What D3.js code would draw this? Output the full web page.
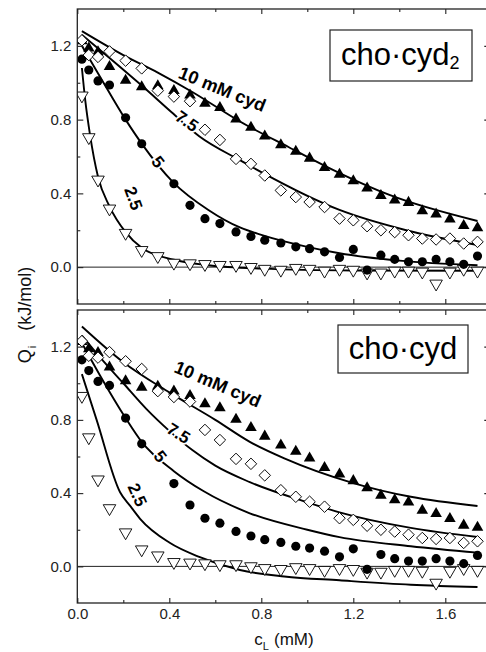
<!DOCTYPE html>
<html>
<head>
<meta charset="utf-8">
<script src="https://cdn.jsdelivr.net/npm/d3@7/dist/d3.min.js"></script>
<style>
  html, body { margin: 0; padding: 0; background: #fff; }
  svg { display: block; }
</style>
</head>
<body>
<div id="chart"></div>
<script>
/*------------------- Data -------------------*/
// ligand concentration c_L (mM), shared by every titration
const cL = [0.02, 0.05, 0.09, 0.14, 0.21, 0.28, 0.35, 0.42, 0.49, 0.555, 0.62, 0.69, 0.755, 0.815,
            0.885, 0.95, 1.01, 1.075, 1.14, 1.2, 1.26, 1.32, 1.38, 1.44, 1.50, 1.56, 1.62, 1.68, 1.74];

// Q_i (kJ/mol) for each cyd concentration
const q10 = [1.23, 1.19, 1.17, 1.09, 1.015, 0.98, 0.985, 0.96, 0.935, 0.89, 0.868, 0.805, 0.76, 0.713,
             0.665, 0.63, 0.593, 0.542, 0.506, 0.47, 0.431, 0.39, 0.366, 0.353, 0.308, 0.29, 0.263, 0.227, 0.215];
const q75 = [1.23, 1.15, 1.14, 1.17, 1.12, 1.078, 0.957, 0.925, 0.9, 0.745, 0.69, 0.587, 0.56, 0.497,
             0.416, 0.38, 0.353, 0.326, 0.263, 0.254, 0.222, 0.2, 0.19, 0.173, 0.155, 0.15, 0.155, 0.128, 0.137];
const q5 = [1.128, 1.069, 1.01, 0.988, 0.81, 0.669, null, 0.452, 0.335, 0.263, 0.236, 0.191, 0.166, 0.146,
            0.131, 0.11, 0.10, 0.083, 0.052, 0.096, -0.016, 0.065, 0.042, 0.029, 0.029, 0.042, 0.029, 0.015, 0.06];
const q25 = [0.93, 0.704, 0.474, 0.317, 0.185, 0.092, 0.059, 0.023, 0.02, 0.016, 0.011, 0.011, 0.0, -0.01,
             -0.015, -0.005, -0.01, -0.02, -0.01, -0.015, -0.03, -0.03, -0.02, -0.02, -0.025, -0.09, -0.025, -0.01, -0.02];

// fitted curves, cho·cyd2 model (top)
const fitTop10 = [[0.02, 1.28], [0.2, 1.15], [0.35, 1.055], [0.5, 0.95], [0.707, 0.79], [0.92, 0.65], [1.14, 0.51], [1.36, 0.39], [1.74, 0.25]];
const fitTop75 = [[0.02, 1.26], [0.135, 1.14], [0.28, 0.985], [0.41, 0.84], [0.53, 0.71], [0.707, 0.58], [0.8, 0.515], [1.14, 0.31], [1.43, 0.2], [1.74, 0.12]];
const fitTop5 = [[0.02, 1.2], [0.1, 1.03], [0.21, 0.8], [0.28, 0.67], [0.417, 0.46], [0.57, 0.31], [0.707, 0.215], [0.8, 0.175], [1.0, 0.11], [1.14, 0.075], [1.4, 0.035], [1.74, 0.01]];
const fitTop25 = [[0.02, 1.08], [0.035, 0.9], [0.055, 0.72], [0.09, 0.49], [0.14, 0.33], [0.21, 0.19], [0.28, 0.105], [0.42, 0.04], [0.57, 0.01], [0.8, -0.008], [1.2, -0.018], [1.74, -0.02]];

// fitted curves, cho·cyd model (bottom)
const fitBot10 = [[0.02, 1.31], [0.2, 1.115], [0.4, 0.95], [0.6, 0.8], [0.75, 0.68], [0.9, 0.59], [1.2, 0.455], [1.45, 0.38], [1.74, 0.33]];
const fitBot75 = [[0.02, 1.26], [0.1, 1.14], [0.2, 1.0], [0.3, 0.86], [0.4, 0.74], [0.5, 0.635], [0.6, 0.55], [0.75, 0.46], [1.0, 0.35], [1.14, 0.295], [1.45, 0.21], [1.74, 0.16]];
const fitBot5 = [[0.02, 1.22], [0.1, 1.04], [0.21, 0.81], [0.28, 0.68], [0.42, 0.52], [0.55, 0.41], [0.75, 0.29], [1.0, 0.2], [1.14, 0.16], [1.45, 0.11], [1.74, 0.075]];
const fitBot25 = [[0.02, 1.05], [0.084, 0.8], [0.186, 0.405], [0.23, 0.33], [0.273, 0.26], [0.4, 0.13], [0.533, 0.05], [0.707, -0.02], [0.9, -0.055], [1.14, -0.076], [1.45, -0.1], [1.74, -0.113]];

// curve labels: text, c, Q, angle, font size
const labelsTop = [["10 mM cyd", 0.63, 0.965, 22, 18], ["7.5", 0.476, 0.79, 35, 17], ["5", 0.35, 0.57, 52, 17], ["2.5", 0.243, 0.373, 70, 17]];
const labelsBot = [["10 mM cyd", 0.61, 0.995, 23, 18], ["7.5", 0.44, 0.725, 32, 17], ["5", 0.36, 0.6, 52, 17], ["2.5", 0.26, 0.39, 66, 17]];

const xTicksMajor = [0, 0.4, 0.8, 1.2, 1.6];
const xTicksMinor = [0.2, 0.6, 1.0, 1.4];
const yTicksMajor = [0, 0.4, 0.8, 1.2];
const yTicksMinor = [0.2, 0.6, 1.0];

/*------------------- Setup -------------------*/
const width = 486, height = 652;
const font = "Arial, 'Liberation Sans', sans-serif";

const svg = d3.select("#chart").append("svg")
    .attr("width", width)
    .attr("height", height);

const x = d3.scaleLinear().domain([0, 1.8]).range([77.3, 491.3]);

const panels = [
    { top: 9, bottom: 304, fits: [fitTop10, fitTop75, fitTop5, fitTop25], labels: labelsTop,
      box: [330, 30, 142, 51], name: "cho·cyd", sub: "2", xLabels: false },
    { top: 310, bottom: 603, fits: [fitBot10, fitBot75, fitBot5, fitBot25], labels: labelsBot,
      box: [338, 325, 130, 48], name: "cho·cyd", sub: null, xLabels: true }
];

const series = [
    { q: q25, shape: "down" },
    { q: q5, shape: "circle" },
    { q: q10, shape: "up" },
    { q: q75, shape: "diamond" }
];

const symUp = d3.symbol(d3.symbolTriangle, 58)();
const symDown = d3.symbol(d3.symbolTriangle, 68)();
const symCircle = d3.symbol(d3.symbolCircle, 66)();
const symSquare = d3.symbol(d3.symbolSquare, 66)();

panels.forEach((p, i) => {
    const y = d3.scaleLinear().domain([-0.2, 1.4]).range([p.bottom, p.top]);
    const g = svg.append("g");

    const clipId = "clip" + i;
    svg.append("clipPath").attr("id", clipId)
        .append("rect")
        .attr("x", x(0)).attr("y", p.top)
        .attr("width", x(1.8) - x(0)).attr("height", p.bottom - p.top);

    const plot = g.append("g").attr("clip-path", `url(#${clipId})`);

    // zero line
    plot.append("line")
        .attr("x1", x(0)).attr("x2", x(1.8))
        .attr("y1", y(0)).attr("y2", y(0))
        .attr("stroke", "#222").attr("stroke-width", 1);

    // fitted curves
    const line = d3.line()
        .x(d => x(d[0]))
        .y(d => y(d[1]))
        .curve(d3.curveMonotoneX);

    plot.selectAll("path.fit")
        .data(p.fits)
        .join("path")
        .attr("class", "fit")
        .attr("d", line)
        .attr("fill", "none")
        .attr("stroke", "#000")
        .attr("stroke-width", 1.9);

    // data points
    series.forEach(s => {
        const pts = cL.map((c, k) => [c, s.q[k]]).filter(d => d[1] !== null);
        const sel = plot.append("g").selectAll("path")
            .data(pts)
            .join("path");
        if (s.shape === "up") {
            sel.attr("d", symUp)
                .attr("transform", d => `translate(${x(d[0])},${y(d[1]) + 0.5})`)
                .attr("fill", "#000");
        } else if (s.shape === "down") {
            sel.attr("d", symDown)
                .attr("transform", d => `translate(${x(d[0])},${y(d[1])}) rotate(180)`)
                .attr("fill", "#fff").attr("stroke", "#000").attr("stroke-width", 0.9);
        } else if (s.shape === "circle") {
            sel.attr("d", symCircle)
                .attr("transform", d => `translate(${x(d[0])},${y(d[1])})`)
                .attr("fill", "#000");
        } else {
            sel.attr("d", symSquare)
                .attr("transform", d => `translate(${x(d[0])},${y(d[1])}) rotate(45)`)
                .attr("fill", "#fff").attr("stroke", "#000").attr("stroke-width", 0.9);
        }
    });

    // curve labels
    plot.selectAll("text.lbl")
        .data(p.labels)
        .join("text")
        .attr("class", "lbl")
        .attr("transform", d => `translate(${x(d[1])},${y(d[2])}) rotate(${d[3]})`)
        .attr("text-anchor", "middle")
        .attr("dominant-baseline", "central")
        .attr("font-family", font)
        .attr("font-weight", "bold")
        .attr("font-size", d => d[4])
        .attr("fill", "#000")
        .attr("stroke", "#fff")
        .attr("stroke-width", 3.5)
        .attr("paint-order", "stroke")
        .text(d => d[0]);

    // axes (ticks point inward)
    const axes = [
        [d3.axisLeft(y).tickValues(yTicksMajor).tickSize(-6).tickPadding(6).tickFormat(d3.format(".1f")), `translate(${x(0)},0)`],
        [d3.axisLeft(y).tickValues(yTicksMinor).tickSize(-3).tickFormat(""), `translate(${x(0)},0)`],
        [d3.axisRight(y).tickValues(yTicksMajor).tickSize(-6).tickFormat(""), `translate(${x(1.8) - 1},0)`],
        [d3.axisRight(y).tickValues(yTicksMinor).tickSize(-3).tickFormat(""), `translate(${x(1.8) - 1},0)`],
        [d3.axisBottom(x).tickValues(xTicksMajor).tickSize(-5).tickPadding(5).tickFormat(p.xLabels ? d3.format(".1f") : ""), `translate(0,${p.bottom})`],
        [d3.axisBottom(x).tickValues(xTicksMinor).tickSize(-3).tickFormat(""), `translate(0,${p.bottom})`],
        [d3.axisTop(x).tickValues(xTicksMajor).tickSize(-5).tickFormat(""), `translate(0,${p.top})`],
        [d3.axisTop(x).tickValues(xTicksMinor).tickSize(-3).tickFormat(""), `translate(0,${p.top})`]
    ];
    axes.forEach(([ax, tr]) => {
        const a = g.append("g").attr("transform", tr).call(ax);
        a.select(".domain").remove();
        a.selectAll("line").attr("stroke", "#222").attr("stroke-width", 1.1);
        a.selectAll("text")
            .attr("font-family", font)
            .attr("font-size", 15)
            .attr("fill", "#222");
    });

    // frame
    g.append("rect")
        .attr("x", x(0)).attr("y", p.top)
        .attr("width", x(1.8) - x(0) - 1).attr("height", p.bottom - p.top)
        .attr("fill", "none")
        .attr("stroke", "#222")
        .attr("stroke-width", 1.3);

    // legend box
    const [bx, by, bw, bh] = p.box;
    g.append("rect")
        .attr("x", bx).attr("y", by).attr("width", bw).attr("height", bh)
        .attr("fill", "#fff").attr("stroke", "#222").attr("stroke-width", 1.2);
    const lt = g.append("text")
        .attr("font-family", font)
        .attr("font-size", 31)
        .attr("fill", "#000");
    if (p.sub) {
        lt.attr("x", bx + 11).attr("y", by + 35).attr("text-anchor", "start").text(p.name);
        lt.append("tspan").attr("dy", 4).attr("font-size", 18).text(p.sub);
    } else {
        lt.attr("x", bx + bw / 2).attr("y", by + 34).attr("text-anchor", "middle").text(p.name);
    }
});

/*------------------- Axis titles -------------------*/
const yTitle = svg.append("text")
    .attr("transform", "translate(31,315) rotate(-90)")
    .attr("text-anchor", "middle")
    .attr("font-family", font)
    .attr("font-size", 18)
    .attr("fill", "#111");
yTitle.append("tspan").text("Q");
yTitle.append("tspan").attr("dy", 5).attr("dx", 1).attr("font-size", 11).text("i");
yTitle.append("tspan").attr("dy", -5).attr("dx", 15).text("(kJ/mol)");

const xTitle = svg.append("text")
    .attr("x", 284).attr("y", 645)
    .attr("text-anchor", "middle")
    .attr("font-family", font)
    .attr("font-size", 17)
    .attr("fill", "#111");
xTitle.append("tspan").text("c");
xTitle.append("tspan").attr("dy", 5).attr("font-size", 11).text("L");
xTitle.append("tspan").attr("dy", -5).attr("dx", 5).text("(mM)");
</script>
</body>
</html>
